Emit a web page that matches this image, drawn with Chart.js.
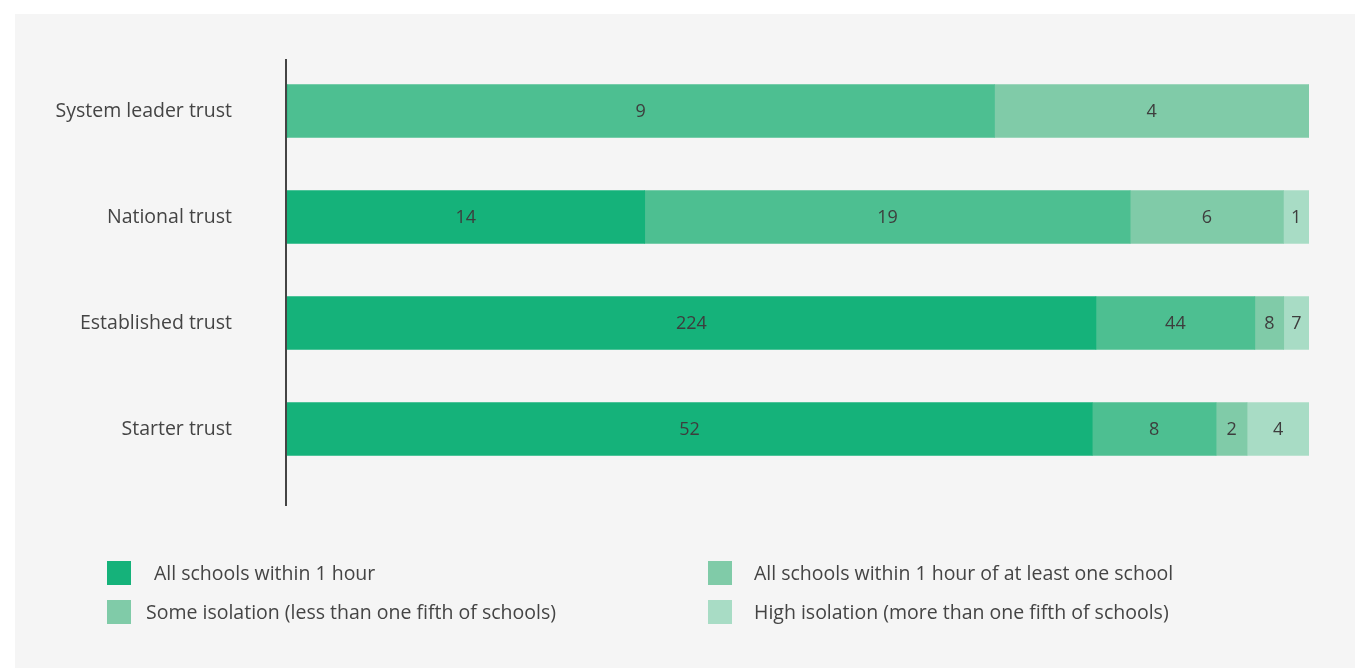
<!DOCTYPE html>
<html>
<head>
<meta charset="utf-8">
<script src="https://cdn.jsdelivr.net/npm/chart.js@4.4.1/dist/chart.umd.min.js"></script>
<style>
  html, body { margin: 0; padding: 0; background: #fff; }
  body { width: 1355px; height: 668px; position: relative; overflow: hidden; font-family: "Open Sans", sans-serif; }
  #panel { position: absolute; left: 15px; top: 14px; width: 1340px; height: 654px; background: #f5f5f5; }
  #chart { position: absolute; left: 0; top: 0; }
  .leg { position: absolute; display: flex; align-items: center; font-size: 19.5px; color: #444; white-space: nowrap; }
  .leg span.sw { display: inline-block; width: 24px; height: 24px; }
</style>
</head>
<body>
<div id="panel">
  <canvas id="chart" width="1340" height="654"></canvas>
  <div class="leg" style="left:92px; top:545px;"><span class="sw" style="background:#15b27a"></span><span style="margin-left:23px">All schools within 1 hour</span></div>
  <div class="leg" style="left:92px; top:584px;"><span class="sw" style="background:#80cba8"></span><span style="margin-left:15px">Some isolation (less than one fifth of schools)</span></div>
  <div class="leg" style="left:693px; top:545px;"><span class="sw" style="background:#80cba8"></span><span style="margin-left:22px">All schools within 1 hour of at least one school</span></div>
  <div class="leg" style="left:693px; top:584px;"><span class="sw" style="background:#a8dcc5"></span><span style="margin-left:22px">High isolation (more than one fifth of schools)</span></div>
</div>
<script>
// категории и значения (число школ)
const categories = ["System leader trust", "National trust", "Established trust", "Starter trust"];
const seriesNames = [
  "All schools within 1 hour",
  "All schools within 1 hour of at least one school",
  "Some isolation (less than one fifth of schools)",
  "High isolation (more than one fifth of schools)"
];
const withinHour = [0, 14, 224, 52];
const withinHourOfOne = [9, 19, 44, 8];
const someIsolation = [4, 6, 8, 2];
const highIsolation = [0, 1, 7, 4];
const colors = ["#15b27a", "#4dbf91", "#80cba8", "#a8dcc5"];

const raw = [withinHour, withinHourOfOne, someIsolation, highIsolation];
const totals = categories.map((_, i) => raw.reduce((s, arr) => s + arr[i], 0));

// подписи в центре сегментов
const segLabels = {
  id: "segLabels",
  afterDatasetsDraw(chart) {
    const ctx = chart.ctx;
    ctx.save();
    ctx.font = '18px "Open Sans", sans-serif';
    ctx.fillStyle = "#3d3d3d";
    ctx.textAlign = "center";
    ctx.textBaseline = "middle";
    chart.data.datasets.forEach((ds, di) => {
      chart.getDatasetMeta(di).data.forEach((bar, i) => {
        const v = ds.counts[i];
        if (!v) return;
        ctx.fillText(String(v), (bar.x + bar.base) / 2, bar.y + 1);
      });
    });
    ctx.restore();
  }
};

// вертикальная ось слева
const axisLine = {
  id: "axisLine",
  afterDraw(chart) {
    const ctx = chart.ctx;
    const x = chart.chartArea.left - 1;
    ctx.save();
    ctx.strokeStyle = "#444";
    ctx.lineWidth = 2;
    ctx.beginPath();
    ctx.moveTo(x, 45);
    ctx.lineTo(x, 492);
    ctx.stroke();
    ctx.restore();
  }
};

new Chart(document.getElementById("chart"), {
  type: "bar",
  data: {
    labels: categories,
    datasets: raw.map((arr, k) => ({
      label: seriesNames[k],
      data: arr.map((v, i) => (v / totals[i]) * 100),
      counts: arr,
      backgroundColor: colors[k],
      borderWidth: 0,
      barThickness: 53
    }))
  },
  options: {
    indexAxis: "y",
    responsive: false,
    animation: false,
    layout: { padding: { top: 44, bottom: 186, right: 46, left: 0 } },
    plugins: { legend: { display: false }, tooltip: { enabled: false } },
    scales: {
      x: { stacked: true, min: 0, max: 100, display: false },
      y: {
        stacked: true,
        grid: { display: false },
        border: { display: false },
        ticks: { color: "#444", font: { family: "Open Sans", size: 19.5 }, padding: 47 },
        afterFit(scale) {
          scale.width = 272;
          // отступ подписей не должен сдвигать область графика по вертикали
          scale.paddingTop = 0;
          scale.paddingBottom = 0;
        }
      }
    }
  },
  plugins: [segLabels, axisLine]
});
</script>
</body>
</html>
